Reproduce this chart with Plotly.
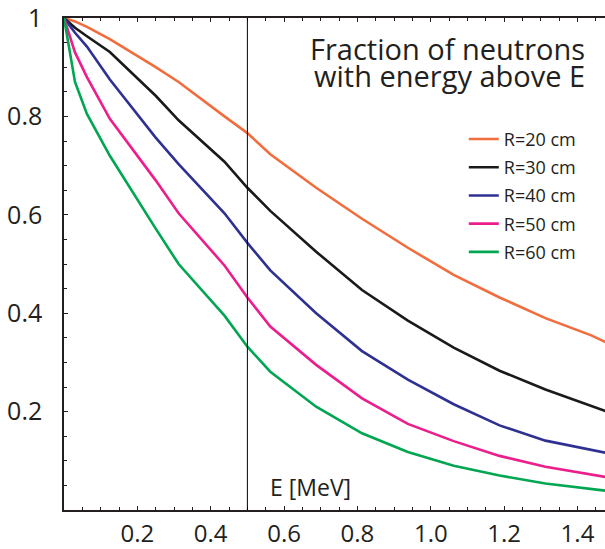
import plotly.graph_objects as go

# Energy grid (MeV) and fraction of neutrons above each energy, per radius
energy = [0, 0.03, 0.0625, 0.125, 0.25, 0.3125, 0.4375, 0.5, 0.5625, 0.6875,
          0.8125, 0.9375, 1.0625, 1.1875, 1.3125, 1.4375, 1.5]

frac_r20 = [1.0, 0.993, 0.982, 0.957, 0.900, 0.870, 0.800, 0.766, 0.723, 0.655,
            0.592, 0.533, 0.478, 0.432, 0.390, 0.355, 0.333]
frac_r30 = [1.0, 0.980, 0.963, 0.931, 0.842, 0.792, 0.708, 0.655, 0.608, 0.525,
            0.447, 0.385, 0.330, 0.283, 0.245, 0.212, 0.195]
frac_r40 = [1.0, 0.970, 0.942, 0.875, 0.757, 0.703, 0.603, 0.543, 0.487, 0.400,
            0.323, 0.265, 0.215, 0.172, 0.141, 0.122, 0.113]
frac_r50 = [1.0, 0.930, 0.880, 0.795, 0.670, 0.603, 0.497, 0.432, 0.373, 0.295,
            0.227, 0.175, 0.140, 0.110, 0.088, 0.072, 0.064]
frac_r60 = [1.0, 0.870, 0.805, 0.720, 0.572, 0.500, 0.395, 0.332, 0.281, 0.210,
            0.156, 0.118, 0.090, 0.070, 0.054, 0.043, 0.037]

series_names = ["R=20 cm", "R=30 cm", "R=40 cm", "R=50 cm", "R=60 cm"]
series_values = [frac_r20, frac_r30, frac_r40, frac_r50, frac_r60]
series_colors = ["#f26d3d", "#1a1a1a", "#2e3192", "#ec1e8c", "#00a651"]

x_tickvals = [0.2, 0.4, 0.6, 0.8, 1.0, 1.2, 1.4]
x_ticktext = ["0.2", "0.4", "0.6", "0.8", "1.0", "1.2", "1.4"]
y_tickvals = [0.2, 0.4, 0.6, 0.8, 1.0]
y_ticktext = ["0.2", "0.4", "0.6", "0.8", "1"]

marker_energy = 0.5

ink = "#231f20"
font_family = "Open Sans"

fig = go.Figure()
for i, (name, vals, col) in enumerate(zip(series_names, series_values, series_colors)):
    fig.add_trace(go.Scatter(
        x=energy, y=vals, mode="lines", name=name,
        legendgroup=f"g{i}",
        line=dict(color=col, width=2.6),
    ))

# vertical reference line at E = 0.5 MeV
fig.add_shape(type="line", xref="x", yref="y",
              x0=marker_energy, x1=marker_energy, y0=0, y1=1,
              line=dict(color="black", width=1))

fig.add_annotation(text="Fraction of neutrons", xref="paper", yref="paper",
                   x=0.967, y=0.939, xanchor="right", yanchor="middle",
                   showarrow=False, font=dict(size=29, color=ink, family=font_family))
fig.add_annotation(text="with energy above E", xref="paper", yref="paper",
                   x=0.967, y=0.884, xanchor="right", yanchor="middle",
                   showarrow=False, font=dict(size=29, color=ink, family=font_family))
fig.add_annotation(text="E [MeV]", xref="x", yref="paper",
                   x=0.555, y=0.047, xanchor="left", yanchor="middle",
                   showarrow=False, font=dict(size=23, color=ink, family=font_family))

fig.update_xaxes(
    range=[0, 1.475], showgrid=False, zeroline=False, automargin=False,
    showline=True, linecolor=ink, linewidth=1.5, mirror="allticks",
    tickmode="array", tickvals=x_tickvals, ticktext=x_ticktext,
    ticks="inside", ticklen=4, tickwidth=1, tickcolor=ink,
    minor=dict(tickmode="linear", tick0=0, dtick=0.05, ticks="inside",
               ticklen=3, tickwidth=1, tickcolor=ink, showgrid=False),
    ticklabelstandoff=1, ticklabeloverflow="allow",
    tickfont=dict(size=24, color=ink, family=font_family),
)
fig.update_yaxes(
    range=[0, 1], showgrid=False, zeroline=False, automargin=False,
    showline=True, linecolor=ink, linewidth=1.5, mirror=False,
    tickmode="array", tickvals=y_tickvals, ticktext=y_ticktext,
    ticks="inside", ticklen=4, tickwidth=1, tickcolor=ink,
    minor=dict(tickmode="linear", tick0=0, dtick=0.05, ticks="inside",
               ticklen=3, tickwidth=1, tickcolor=ink, showgrid=False),
    ticklabelstandoff=15, ticklabeloverflow="allow",
    tickfont=dict(size=25, color=ink, family=font_family),
)

fig.update_layout(
    width=605, height=549,
    margin=dict(l=64, r=0, t=18, b=39, autoexpand=False),
    paper_bgcolor="white", plot_bgcolor="white",
    font=dict(family=font_family, color=ink),
    showlegend=True,
    legend=dict(x=0.739, y=0.791, xanchor="left", yanchor="top",
                traceorder="grouped", tracegroupgap=1.8,
                bgcolor="rgba(0,0,0,0)", borderwidth=0,
                font=dict(size=18, color=ink, family=font_family)),
)

fig.write_html("out.html")
